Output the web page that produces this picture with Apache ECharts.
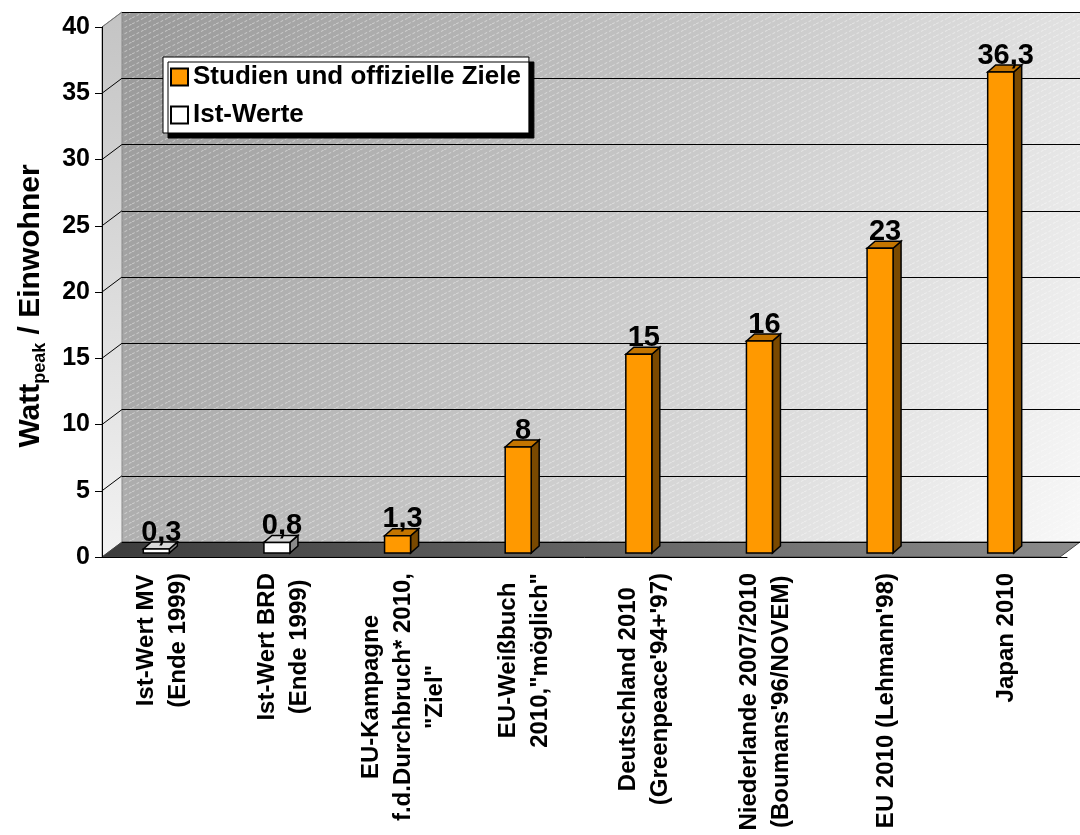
<!DOCTYPE html>
<html><head><meta charset="utf-8">
<script src="https://cdn.jsdelivr.net/npm/echarts@6/dist/echarts.min.js"></script>
<style>html,body{margin:0;padding:0;background:#fff}#c{width:1080px;height:835px}</style>
</head><body><div id="c"></div>
<script>
// ---- data ----
const categories = [
  'Ist-Wert MV\n(Ende 1999)',
  'Ist-Wert BRD\n(Ende 1999)',
  'EU-Kampagne\nf.d.Durchbruch* 2010,\n"Ziel"',
  'EU-Weißbuch\n2010,"möglich"',
  "Deutschland 2010\n(Greenpeace'94+'97)",
  "Niederlande 2007/2010\n(Boumans'96/NOVEM)",
  "EU 2010 (Lehmann'98)",
  'Japan 2010'
];
const istWerte = [0.3, 0.8, null, null, null, null, null, null];
const studien  = [null, null, 1.3, 8, 15, 16, 23, 36.3];
const yTickValues = [0, 5, 10, 15, 20, 25, 30, 35, 40];
const seriesNames = ['Studien und offizielle Ziele', 'Ist-Werte'];
const yTitleParts = ['Watt', 'peak', ' / Einwohner'];

// ---- styling ----
const F = '"Liberation Sans", Arial, Helvetica, sans-serif';
const DX = 20, DY = -15;   // depth offset of back wall
const yMin = yTickValues[0], yMax = yTickValues[yTickValues.length - 1], yStep = yTickValues[1] - yTickValues[0];

function fmt(v) { return String(v).replace('.', ','); }

// hatch pattern for back wall
const pc = document.createElement('canvas');
pc.width = 12; pc.height = 6;
(function () {
  const g = pc.getContext('2d');
  g.strokeStyle = 'rgba(255,255,255,0.45)';
  g.lineWidth = 1;
  g.setLineDash([3, 2]);
  g.beginPath(); g.moveTo(0, 6); g.lineTo(12, 0); g.stroke();
})();

function wallRender(params, api) {
  const cs = params.coordSys;
  const x0 = cs.x, y0 = cs.y, w = cs.width, h = cs.height;
  const ch = [];
  ch.push({ type: 'rect', shape: { x: x0, y: y0, width: w, height: h },
    style: { fill: new echarts.graphic.LinearGradient(0, 0, 1, 1, [
      { offset: 0, color: '#989898' }, { offset: 0.5, color: '#c8c8c8' }, { offset: 1, color: '#f8f8f8' }]) } });
  ch.push({ type: 'rect', shape: { x: x0, y: y0, width: w, height: h },
    style: { fill: { image: pc, repeat: 'repeat' } } });
  // left wall
  ch.push({ type: 'polygon', shape: { points: [[x0 - DX, y0 - DY], [x0, y0], [x0, y0 + h], [x0 - DX, y0 + h - DY]] },
    style: { fill: new echarts.graphic.LinearGradient(0, 0, 0, 1, [
      { offset: 0, color: '#c4c4c4' }, { offset: 1, color: '#f2f2f2' }]), stroke: '#888', lineWidth: 1 } });
  // floor
  ch.push({ type: 'polygon', shape: { points: [[x0 - DX, y0 + h - DY], [x0, y0 + h], [x0 + w, y0 + h], [x0 + w - DX, y0 + h - DY]] },
    style: { fill: new echarts.graphic.LinearGradient(0, 0, 1, 0, [
      { offset: 0, color: '#3c3c3c' }, { offset: 1, color: '#8c8c8c' }]), stroke: '#444', lineWidth: 1 } });
  // connector lines on the left wall
  yTickValues.forEach(function (v) {
    if (v === yMin) return;
    const p = api.coord([0, v]);
    ch.push({ type: 'line', shape: { x1: p[0] - DX, y1: p[1] - DY, x2: p[0], y2: p[1] },
      style: { stroke: v === yMax ? '#777' : '#000', lineWidth: 1 } });
  });
  return { type: 'group', children: ch };
}

function barRender(front, side, topc) {
  return function (params, api) {
    const idx = api.value(0), v = api.value(1);
    const t = api.coord([idx, v]), b = api.coord([idx, 0]);
    const cx = t[0] - 6, half = 13, off = -4, d = 8, e = -7;
    const x0 = cx - half, x1 = cx + half, yt = t[1] + off, yb = b[1] + off;
    return { type: 'group', children: [
      { type: 'polygon', shape: { points: [[x1, yt], [x1 + d, yt + e], [x1 + d, yb + e], [x1, yb]] },
        style: { fill: side, stroke: '#000', lineWidth: 1.5 } },
      { type: 'polygon', shape: { points: [[x0, yt], [x0 + d, yt + e], [x1 + d, yt + e], [x1, yt]] },
        style: { fill: topc, stroke: '#000', lineWidth: 1.5 } },
      { type: 'rect', shape: { x: x0, y: yt, width: 2 * half, height: yb - yt },
        style: { fill: front, stroke: '#000', lineWidth: 1.5 } },
      { type: 'text', style: { text: fmt(v), x: cx + 5, y: yt + e + 5, align: 'center', verticalAlign: 'bottom',
        font: 'bold 29px ' + F, fill: '#000' } }
    ] };
  };
}

function toData(arr) {
  const out = [];
  arr.forEach(function (v, i) { if (v !== null) out.push([i, v]); });
  return out;
}

const chart = echarts.init(document.getElementById('c'), null, { renderer: 'canvas' });
chart.setOption({
  animation: false,
  backgroundColor: '#fff',
  grid: [
    { left: 102, top: 27, width: 965, height: 530 },
    { left: 102 + DX, top: 27 + DY, width: 965, height: 530 }
  ],
  legend: {
    orient: 'vertical', left: 163, top: 57,
    data: [{ name: seriesNames[0], icon: 'rect' }, { name: seriesNames[1], icon: 'rect' }],
    itemWidth: 17, itemHeight: 17, itemGap: 10,
    padding: [6, 8, 4, 7],
    backgroundColor: '#fff', borderColor: '#000', borderWidth: 1,
    shadowColor: '#000', shadowBlur: 0, shadowOffsetX: 5, shadowOffsetY: 5,
    textStyle: { fontFamily: F, fontWeight: 'bold', fontSize: 26, color: '#000', lineHeight: 28 },
    selectedMode: false
  },
  xAxis: [
    { type: 'category', gridIndex: 0, data: categories,
      axisLine: { lineStyle: { color: '#000', width: 1 } },
      axisTick: { length: 12, lineStyle: { color: '#000' } },
      axisLabel: { interval: 0, rotate: 90, margin: 16,
        formatter: function (s) { return s.split('\n').map(function (l) { return '{c|' + l + '}'; }).join('\n'); },
        rich: { c: { align: 'center', fontFamily: F, fontWeight: 'bold', fontSize: 24, lineHeight: 32, color: '#000' } } },
      splitLine: { show: false } },
    { type: 'value', gridIndex: 1, min: 0, max: 1, show: false }
  ],
  yAxis: [
    { type: 'value', gridIndex: 0, min: yMin, max: yMax, interval: yStep,
      axisLine: { show: true, lineStyle: { color: '#000' } },
      axisTick: { show: true, length: 7, lineStyle: { color: '#000' } },
      axisLabel: { margin: 12, fontFamily: F, fontWeight: 'bold', fontSize: 25, color: '#000' },
      splitLine: { show: false },
      name: '{a|' + yTitleParts[0] + '}{b|' + yTitleParts[1] + '}{a|' + yTitleParts[2] + '}',
      nameLocation: 'middle', nameRotate: 90, nameGap: 53,
      nameTextStyle: { padding: [0, 28, 0, 0], rich: {
        a: { fontFamily: F, fontWeight: 'bold', fontSize: 30, color: '#000', lineHeight: 36 },
        b: { fontFamily: F, fontWeight: 'bold', fontSize: 18, color: '#000', lineHeight: 19, verticalAlign: 'bottom' } } } },
    { type: 'value', gridIndex: 1, min: yMin, max: yMax, interval: yStep,
      axisLine: { show: false }, axisTick: { show: false }, axisLabel: { show: false },
      splitLine: { show: true, lineStyle: { color: '#000', width: 1 } } }
  ],
  series: [
    { type: 'custom', name: '__wall', xAxisIndex: 1, yAxisIndex: 1, z: -1, silent: true,
      data: [[0, 0]], renderItem: wallRender },
    { type: 'custom', name: seriesNames[0], xAxisIndex: 0, yAxisIndex: 0, z: 3,
      itemStyle: { color: '#FF9900', borderColor: '#000', borderWidth: 1 },
      encode: { x: 0, y: 1 },
      data: toData(studien), renderItem: barRender('#FF9900', '#7a4900', '#c47500') },
    { type: 'custom', name: seriesNames[1], xAxisIndex: 0, yAxisIndex: 0, z: 3,
      itemStyle: { color: '#FFFFFF', borderColor: '#000', borderWidth: 1 },
      encode: { x: 0, y: 1 },
      data: toData(istWerte), renderItem: barRender('#FFFFFF', '#8a8a8a', '#d8d8d8') }
  ]
});
</script>
</body></html>
